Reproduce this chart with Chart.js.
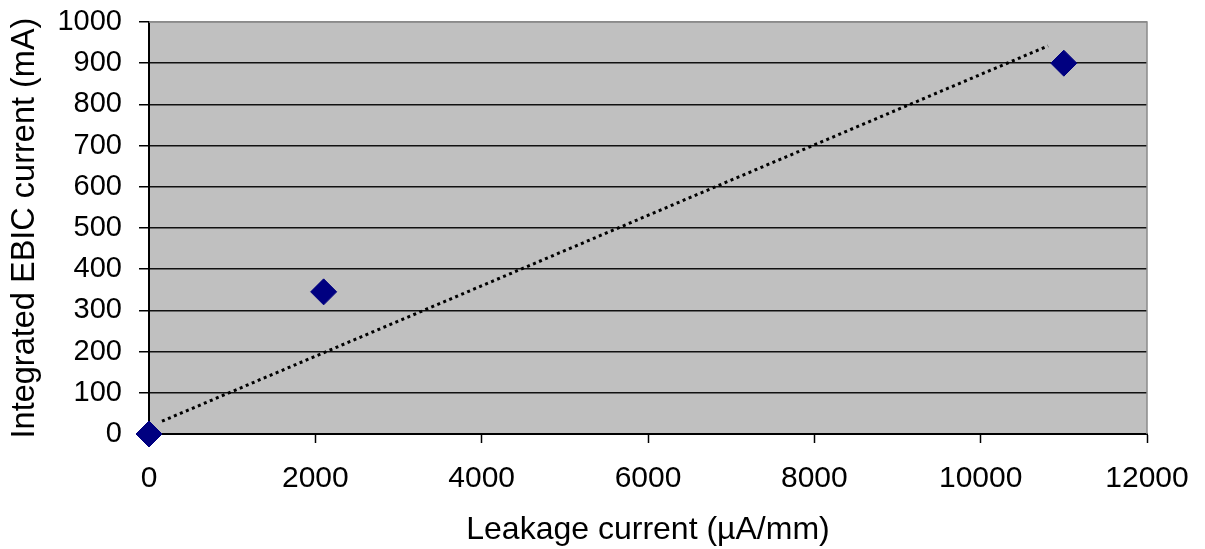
<!DOCTYPE html>
<html>
<head>
<meta charset="utf-8">
<script src="https://cdn.jsdelivr.net/npm/chart.js@4"></script>
<style>
html,body{margin:0;padding:0;background:#fff;}
#wrap{width:1205px;height:549px;position:relative;}
</style>
</head>
<body>
<div id="wrap"><canvas id="c" width="1205" height="549"></canvas></div>
<script>
// Data
const leakageCurrent = [0, 2100, 11000];      // µA/mm
const ebicCurrent = [0, 345, 900];            // mA
const trendLeakage = [156, 10810];            // dotted trendline ends
const trendEbic = [31, 942];
const xTickValues = [0, 2000, 4000, 6000, 8000, 10000, 12000];
const yTickValues = [0, 100, 200, 300, 400, 500, 600, 700, 800, 900, 1000];

const FONT = "'Liberation Sans', Arial, sans-serif";

const plotBg = {
  id: 'plotBg',
  beforeDraw(chart) {
    const {ctx, chartArea: a} = chart;
    ctx.save();
    ctx.fillStyle = '#C0C0C0';
    ctx.fillRect(a.left, a.top, a.right - a.left, a.bottom - a.top);
    ctx.restore();
  },
  afterDatasetsDraw(chart) {
    const {ctx, chartArea: a} = chart;
    ctx.save();
    ctx.strokeStyle = '#8a8a8a';
    ctx.lineWidth = 1.5;
    ctx.beginPath();
    ctx.moveTo(a.left, a.top);
    ctx.lineTo(a.right, a.top);
    ctx.lineTo(a.right, a.bottom);
    ctx.stroke();
    ctx.restore();
  }
};

new Chart(document.getElementById('c'), {
  type: 'scatter',
  data: {
    datasets: [
      {
        label: 'Trend',
        data: trendLeakage.map((x, i) => ({x, y: trendEbic[i]})),
        showLine: true,
        borderColor: '#000',
        borderWidth: 3,
        borderDash: [3, 3.5],
        pointRadius: 0,
        fill: false,
        clip: false,
        order: 2
      },
      {
        label: 'Data',
        data: leakageCurrent.map((x, i) => ({x, y: ebicCurrent[i]})),
        pointStyle: 'rectRot',
        pointRadius: 13,
        pointBackgroundColor: '#000080',
        pointBorderColor: '#000080',
        pointBorderWidth: 1,
        showLine: false,
        clip: false,
        order: 1
      }
    ]
  },
  options: {
    responsive: false,
    animation: false,
    devicePixelRatio: 1,
    layout: {padding: {left: 6, top: 22, right: 58, bottom: 0}},
    plugins: {legend: {display: false}, tooltip: {enabled: false}},
    scales: {
      x: {
        type: 'linear',
        min: 0, max: 12000,
        afterBuildTicks(s) { s.ticks = xTickValues.map(v => ({value: v})); },
        afterFit(s) { s.height = 549 - 434; s.paddingLeft = 0; s.paddingRight = 0; },
        grid: {drawOnChartArea: false, drawTicks: true, tickLength: 9, tickColor: '#000', tickWidth: 1.5},
        border: {color: '#000', width: 2},
        ticks: {color: '#000', font: {family: FONT, size: 30}, padding: 18, maxRotation: 0, callback: v => String(v)},
        title: {display: true, text: 'Leakage current (µA/mm)', color: '#000', font: {family: FONT, size: 32}, padding: 0}
      },
      y: {
        type: 'linear',
        min: 0, max: 1000,
        afterBuildTicks(s) { s.ticks = yTickValues.map(v => ({value: v})); },
        afterFit(s) { s.width = 143; s.paddingTop = 0; s.paddingBottom = 0; },
        grid: {
          color: c => (c.tick && c.tick.value === 1000) ? '#8a8a8a' : '#111',
          lineWidth: 1.5,
          tickLength: 10,
          tickColor: '#000',
          tickWidth: 1.5
        },
        border: {color: '#000', width: 2},
        ticks: {color: '#000', font: {family: FONT, size: 29}, padding: 17, callback: v => String(v)},
        title: {display: true, text: 'Integrated EBIC current (mA)', color: '#000', font: {family: FONT, size: 32.5}, padding: 0}
      }
    }
  },
  plugins: [plotBg]
});
</script>
</body>
</html>
